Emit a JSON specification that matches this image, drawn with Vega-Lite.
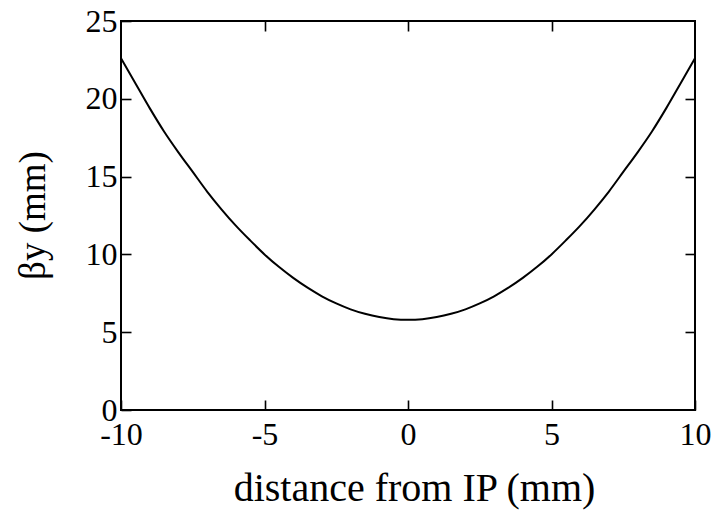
{
  "$schema": "https://vega.github.io/schema/vega-lite/v6.json",
  "width": 574,
  "height": 389,
  "autosize": {"type": "none"},
  "padding": {"left": 121, "top": 21, "right": 18, "bottom": 101},
  "background": "white",
  "config": {
    "view": {"stroke": "black", "strokeWidth": 2},
    "font": "Liberation Serif",
    "axis": {"grid": false, "domain": false, "tickColor": "black", "tickWidth": 1.6, "tickSize": -10, "labelColor": "black", "labelFont": "Liberation Serif", "labelFontSize": 32, "titleFont": "Liberation Serif", "titleColor": "black", "titleFontWeight": "normal", "titleFontSize": 40}
  },
  "data": {
    "values": [
      {"s": -10, "beta": 22.6}, {"s": -9.5, "beta": 21.0}, {"s": -9, "beta": 19.4}, {"s": -8.5, "beta": 17.9},
      {"s": -8, "beta": 16.56}, {"s": -7.5, "beta": 15.3}, {"s": -7, "beta": 14.04}, {"s": -6.5, "beta": 12.9},
      {"s": -6, "beta": 11.85}, {"s": -5.5, "beta": 10.9}, {"s": -5, "beta": 10.0}, {"s": -4.5, "beta": 9.2},
      {"s": -4, "beta": 8.49}, {"s": -3.5, "beta": 7.86}, {"s": -3, "beta": 7.31}, {"s": -2.5, "beta": 6.85},
      {"s": -2, "beta": 6.47}, {"s": -1.5, "beta": 6.18}, {"s": -1, "beta": 5.97}, {"s": -0.5, "beta": 5.84},
      {"s": 0, "beta": 5.8}, {"s": 0.5, "beta": 5.84}, {"s": 1, "beta": 5.97}, {"s": 1.5, "beta": 6.18},
      {"s": 2, "beta": 6.47}, {"s": 2.5, "beta": 6.85}, {"s": 3, "beta": 7.31}, {"s": 3.5, "beta": 7.86},
      {"s": 4, "beta": 8.49}, {"s": 4.5, "beta": 9.2}, {"s": 5, "beta": 10.0}, {"s": 5.5, "beta": 10.9},
      {"s": 6, "beta": 11.85}, {"s": 6.5, "beta": 12.9}, {"s": 7, "beta": 14.04}, {"s": 7.5, "beta": 15.3},
      {"s": 8, "beta": 16.56}, {"s": 8.5, "beta": 17.9}, {"s": 9, "beta": 19.4}, {"s": 9.5, "beta": 21.0},
      {"s": 10, "beta": 22.6}
    ]
  },
  "layer": [
    {
      "mark": {"type": "line", "color": "black", "strokeWidth": 2, "interpolate": "monotone"},
      "encoding": {
        "x": {"field": "s", "type": "quantitative", "scale": {"domain": [-10, 10], "nice": false, "zero": false},
          "axis": {"orient": "bottom", "values": [-10, -5, 0, 5, 10], "labelExpr": "'' + datum.value", "labelFlush": false, "labelOverlap": false, "labelBaseline": "alphabetic", "labelPadding": 44,
            "title": "distance from IP (mm)", "titleX": 293, "titleY": 90, "titleBaseline": "alphabetic", "titleAlign": "center", "titleAnchor": null}},
        "y": {"field": "beta", "type": "quantitative", "scale": {"domain": [0, 25], "nice": false},
          "axis": {"orient": "left", "values": [0, 5, 10, 15, 20, 25], "labelFlush": false, "labelOverlap": false, "labelBaseline": "middle", "labelPadding": 14,
            "title": "βy (mm)", "titleFontSize": 37, "titleX": -77, "titleY": 194, "titleAngle": -90, "titleBaseline": "alphabetic", "titleAlign": "center"}}
      }
    },
    {
      "mark": {"type": "line", "opacity": 0},
      "encoding": {
        "x": {"field": "s", "type": "quantitative", "axis": {"orient": "top", "values": [-5, 0, 5], "labels": false, "title": null}},
        "y": {"field": "beta", "type": "quantitative", "axis": {"orient": "right", "values": [5, 10, 15, 20], "labels": false, "title": null}}
      }
    }
  ],
  "resolve": {"axis": {"x": "independent", "y": "independent"}}
}
